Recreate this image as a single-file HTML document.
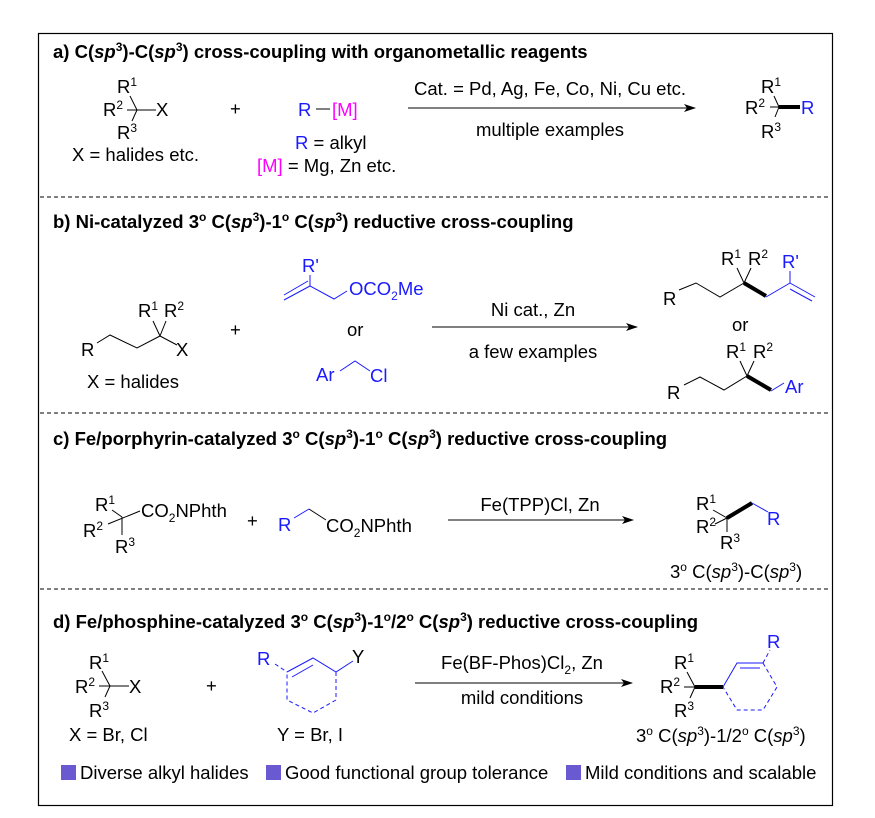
<!DOCTYPE html>
<html><head><meta charset="utf-8"><style>
html,body{margin:0;padding:0;background:#fff;}
svg{display:block;font-family:"Liberation Sans",Arial,sans-serif;}
.t{font-size:18.5px;fill:#000;}
.b{fill:#1a1aff;}
.m{fill:#ff00ff;}
.h{font-size:18.5px;font-weight:bold;}
.s{font-size:12px;}
line,polyline{stroke:#000;stroke-width:1;fill:none;}
.bl{stroke:#1a1aff;}
.bd{stroke-width:4;}
.ds{stroke-dasharray:4,3;}
</style></head><body>
<svg width="875" height="818" viewBox="0 0 875 818">
<defs><marker id="ar" markerWidth="12" markerHeight="8" refX="11" refY="4" orient="auto" markerUnits="userSpaceOnUse"><path d="M0,0 L12,4 L0,8 L3,4 Z" fill="#000"/></marker></defs>
<rect x="38.5" y="33.5" width="794" height="772" fill="none" stroke="#000" stroke-width="1.2"/>
<g stroke="#000" stroke-dasharray="4,3"><line x1="40" y1="197" x2="830" y2="197"/><line x1="40" y1="413" x2="830" y2="413"/><line x1="40" y1="589" x2="830" y2="589"/></g>

<!-- a -->
<text class="t h" x="53" y="58">a) C(<tspan font-style="italic">sp</tspan><tspan class="s" dy="-7">3</tspan><tspan dy="7">)-C(</tspan><tspan font-style="italic">sp</tspan><tspan class="s" dy="-7">3</tspan><tspan dy="7">) cross-coupling with organometallic reagents</tspan></text>
<text class="t" x="117" y="93">R<tspan class="s" dy="-7">1</tspan></text>
<text class="t" x="103" y="116">R<tspan class="s" dy="-7">2</tspan></text>
<text class="t" x="117" y="139">R<tspan class="s" dy="-7">3</tspan></text>
<line x1="130" y1="96" x2="137" y2="110"/><line x1="127" y1="110" x2="156" y2="110"/><line x1="137" y1="110" x2="132" y2="121"/>
<text class="t" x="156" y="116">X</text>
<text class="t" x="72" y="161">X = halides etc.</text>
<text class="t" x="230" y="115">+</text>
<text class="t b" x="298" y="116">R</text><line x1="316" y1="109" x2="330" y2="109"/><text class="t m" x="332" y="116">[M]</text>
<text class="t" x="295" y="149"><tspan class="b">R</tspan> = alkyl</text>
<text class="t" x="257" y="172"><tspan class="m">[M]</tspan> = Mg, Zn etc.</text>
<line x1="408" y1="108" x2="695" y2="108" marker-end="url(#ar)"/>
<text class="t" x="550" y="95" text-anchor="middle">Cat. = Pd, Ag, Fe, Co, Ni, Cu etc.</text>
<text class="t" x="550" y="136" text-anchor="middle">multiple examples</text>
<text class="t" x="761" y="93">R<tspan class="s" dy="-7">1</tspan></text>
<text class="t" x="745" y="114">R<tspan class="s" dy="-7">2</tspan></text>
<text class="t" x="761" y="138">R<tspan class="s" dy="-7">3</tspan></text>
<line x1="774" y1="96" x2="779" y2="107"/><line x1="770" y1="107" x2="779" y2="107"/><line x1="779" y1="107" x2="775" y2="117"/>
<line x1="779" y1="107" x2="800" y2="107" class="bd"/>
<text class="t b" x="801" y="114">R</text>

<!-- b -->
<text class="t h" x="53" y="228">b) Ni-catalyzed 3<tspan class="s" dy="-7">o</tspan><tspan dy="7"> C(</tspan><tspan font-style="italic">sp</tspan><tspan class="s" dy="-7">3</tspan><tspan dy="7">)-1</tspan><tspan class="s" dy="-7">o</tspan><tspan dy="7"> C(</tspan><tspan font-style="italic">sp</tspan><tspan class="s" dy="-7">3</tspan><tspan dy="7">) reductive cross-coupling</tspan></text>
<text class="t" x="81" y="356">R</text>
<polyline points="97,343 110,335 137,348 160,336 177,345"/>
<line x1="160" y1="336" x2="153" y2="321"/><line x1="160" y1="336" x2="166" y2="321"/>
<text class="t" x="176" y="356">X</text>
<text class="t" x="138" y="317">R<tspan class="s" dy="-7">1</tspan></text>
<text class="t" x="164" y="317">R<tspan class="s" dy="-7">2</tspan></text>
<text class="t" x="87" y="388">X = halides</text>
<text class="t" x="230" y="336">+</text>
<text class="t b" x="302" y="272">R'</text>
<polyline class="bl" points="310,275 310,286 334,299 347,291"/>
<line class="bl" x1="310" y1="286" x2="284" y2="300"/><line class="bl" x1="308" y1="281" x2="284" y2="295"/>
<text class="t b" x="349" y="295">OCO<tspan class="s" dy="5">2</tspan><tspan dy="-5">Me</tspan></text>
<text class="t" x="347" y="336">or</text>
<text class="t b" x="316" y="381">Ar</text>
<polyline class="bl" points="340,371 355,361 370,371"/>
<text class="t b" x="370" y="382">Cl</text>
<line x1="432" y1="327" x2="637" y2="327" marker-end="url(#ar)"/>
<text class="t" x="533" y="316" text-anchor="middle">Ni cat., Zn</text>
<text class="t" x="533" y="358" text-anchor="middle">a few examples</text>
<text class="t" x="663" y="305">R</text>
<polyline points="679,290 696,283 720,297 744,283"/>
<line x1="744" y1="283" x2="766" y2="296" class="bd"/>
<line x1="744" y1="283" x2="737" y2="268"/><line x1="744" y1="283" x2="751" y2="268"/>
<text class="t" x="721" y="265">R<tspan class="s" dy="-7">1</tspan></text>
<text class="t" x="748" y="265">R<tspan class="s" dy="-7">2</tspan></text>
<polyline class="bl" points="766,297 790,283 790,271"/>
<line class="bl" x1="790" y1="283" x2="815" y2="297"/><line class="bl" x1="790" y1="289" x2="812" y2="301"/>
<text class="t b" x="782" y="268">R'</text>
<text class="t" x="732" y="331">or</text>
<text class="t" x="667" y="399">R</text>
<polyline points="684,385 700,377 724,390 747,376"/>
<line x1="747" y1="376" x2="771" y2="390" class="bd"/>
<line x1="747" y1="376" x2="740" y2="361"/><line x1="747" y1="376" x2="754" y2="361"/>
<text class="t" x="726" y="358">R<tspan class="s" dy="-7">1</tspan></text>
<text class="t" x="753" y="358">R<tspan class="s" dy="-7">2</tspan></text>
<line class="bl" x1="771" y1="391" x2="784" y2="383"/>
<text class="t b" x="785" y="393">Ar</text>

<!-- c -->
<text class="t h" x="53" y="445">c) Fe/porphyrin-catalyzed 3<tspan class="s" dy="-7">o</tspan><tspan dy="7"> C(</tspan><tspan font-style="italic">sp</tspan><tspan class="s" dy="-7">3</tspan><tspan dy="7">)-1</tspan><tspan class="s" dy="-7">o</tspan><tspan dy="7"> C(</tspan><tspan font-style="italic">sp</tspan><tspan class="s" dy="-7">3</tspan><tspan dy="7">) reductive cross-coupling</tspan></text>
<text class="t" x="95" y="511">R<tspan class="s" dy="-7">1</tspan></text>
<text class="t" x="83" y="537">R<tspan class="s" dy="-7">2</tspan></text>
<text class="t" x="115" y="553">R<tspan class="s" dy="-7">3</tspan></text>
<line x1="112" y1="510" x2="122" y2="517"/><line x1="108" y1="524" x2="140" y2="511"/><line x1="122" y1="517" x2="122" y2="535"/>
<text class="t" x="141" y="517">CO<tspan class="s" dy="5">2</tspan><tspan dy="-5">NPhth</tspan></text>
<text class="t" x="247" y="527">+</text>
<text class="t b" x="278" y="531">R</text>
<line class="bl" x1="294" y1="518" x2="309" y2="509"/><line x1="309" y1="509" x2="326" y2="520"/>
<text class="t" x="326" y="532">CO<tspan class="s" dy="5">2</tspan><tspan dy="-5">NPhth</tspan></text>
<line x1="448" y1="520" x2="633" y2="520" marker-end="url(#ar)"/>
<text class="t" x="540" y="511" text-anchor="middle">Fe(TPP)Cl, Zn</text>
<text class="t" x="696" y="510">R<tspan class="s" dy="-7">1</tspan></text>
<text class="t" x="696" y="533">R<tspan class="s" dy="-7">2</tspan></text>
<text class="t" x="720" y="549">R<tspan class="s" dy="-7">3</tspan></text>
<line x1="713" y1="510" x2="727" y2="518"/><line x1="715" y1="524" x2="727" y2="518"/><line x1="727" y1="518" x2="727" y2="532"/>
<line x1="727" y1="518" x2="752" y2="503" class="bd"/>
<line class="bl" x1="752" y1="503" x2="768" y2="512"/>
<text class="t b" x="767" y="525">R</text>
<text class="t" x="670" y="578">3<tspan class="s" dy="-7">o</tspan><tspan dy="7"> C(</tspan><tspan font-style="italic">sp</tspan><tspan class="s" dy="-7">3</tspan><tspan dy="7">)-C(</tspan><tspan font-style="italic">sp</tspan><tspan class="s" dy="-7">3</tspan><tspan dy="7">)</tspan></text>

<!-- d -->
<text class="t h" x="53" y="628">d) Fe/phosphine-catalyzed 3<tspan class="s" dy="-7">o</tspan><tspan dy="7"> C(</tspan><tspan font-style="italic">sp</tspan><tspan class="s" dy="-7">3</tspan><tspan dy="7">)-1</tspan><tspan class="s" dy="-7">o</tspan><tspan dy="7">/2</tspan><tspan class="s" dy="-7">o</tspan><tspan dy="7"> C(</tspan><tspan font-style="italic">sp</tspan><tspan class="s" dy="-7">3</tspan><tspan dy="7">) reductive cross-coupling</tspan></text>
<text class="t" x="89" y="669">R<tspan class="s" dy="-7">1</tspan></text>
<text class="t" x="75" y="693">R<tspan class="s" dy="-7">2</tspan></text>
<text class="t" x="89" y="717">R<tspan class="s" dy="-7">3</tspan></text>
<line x1="102" y1="671" x2="110" y2="686"/><line x1="99" y1="686" x2="129" y2="686"/><line x1="110" y1="686" x2="105" y2="697"/>
<text class="t" x="129" y="693">X</text>
<text class="t" x="69" y="741">X = Br, Cl</text>
<text class="t" x="206" y="692">+</text>
<text class="t b" x="257" y="665">R</text>
<line class="bl ds" x1="275" y1="664" x2="287" y2="672"/>
<polyline class="bl" points="287,672 313,658 336,672 353,661"/>
<line class="bl" x1="292" y1="677" x2="313" y2="665"/>
<polyline class="bl ds" points="336,672 336,700 313,713 287,700 287,672"/>
<text class="t" x="352" y="663">Y</text>
<text class="t" x="277" y="741">Y = Br, I</text>
<line x1="415" y1="683" x2="632" y2="683" marker-end="url(#ar)"/>
<text class="t" x="522" y="669" text-anchor="middle">Fe(BF-Phos)Cl<tspan class="s" dy="5">2</tspan><tspan dy="-5">, Zn</tspan></text>
<text class="t" x="522" y="704" text-anchor="middle">mild conditions</text>
<text class="t" x="674" y="669">R<tspan class="s" dy="-7">1</tspan></text>
<text class="t" x="660" y="693">R<tspan class="s" dy="-7">2</tspan></text>
<text class="t" x="674" y="717">R<tspan class="s" dy="-7">3</tspan></text>
<line x1="687" y1="672" x2="695" y2="687"/><line x1="684" y1="687" x2="695" y2="687"/><line x1="695" y1="687" x2="690" y2="698"/>
<line x1="695" y1="687" x2="723" y2="687" class="bd"/>
<polyline class="bl" points="723,687 737,663 763,663"/>
<line class="bl" x1="740" y1="668" x2="760" y2="668"/>
<polyline class="bl ds" points="763,663 777,687 763,710 737,710 723,687"/>
<line class="bl ds" x1="763" y1="663" x2="770" y2="650"/>
<text class="t b" x="767" y="648">R</text>
<text class="t" x="636" y="742">3<tspan class="s" dy="-7">o</tspan><tspan dy="7"> C(</tspan><tspan font-style="italic">sp</tspan><tspan class="s" dy="-7">3</tspan><tspan dy="7">)-1/2</tspan><tspan class="s" dy="-7">o</tspan><tspan dy="7"> C(</tspan><tspan font-style="italic">sp</tspan><tspan class="s" dy="-7">3</tspan><tspan dy="7">)</tspan></text>

<rect x="61" y="765" width="15" height="15" fill="#6a5ad2"/>
<text class="t" x="80" y="779">Diverse alkyl halides</text>
<rect x="266" y="765" width="15" height="15" fill="#6a5ad2"/>
<text class="t" x="285" y="779">Good functional group tolerance</text>
<rect x="566" y="765" width="15" height="15" fill="#6a5ad2"/>
<text class="t" x="585" y="779">Mild conditions and scalable</text>
</svg>
</body></html>
